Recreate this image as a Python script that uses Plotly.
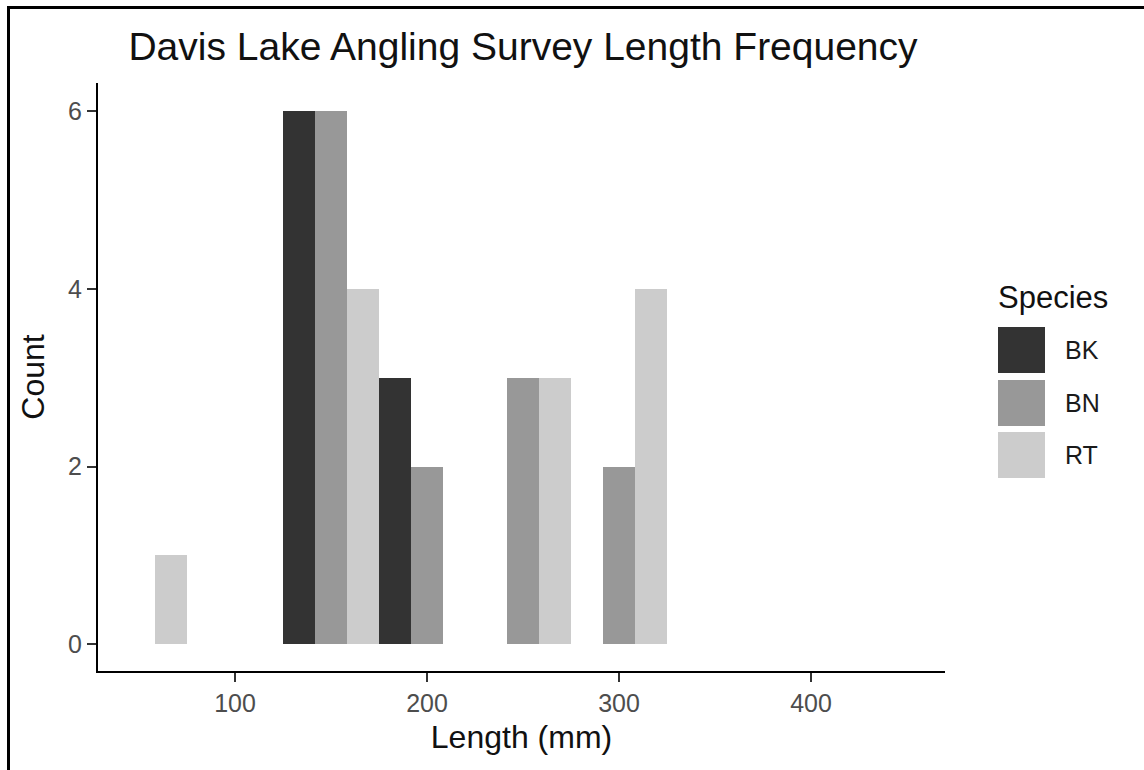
import plotly.graph_objects as go

# Data
bin_centers = [50, 150, 200, 250, 300]
species = ["BK", "BN", "RT"]
bk_counts = [0, 6, 3, 0, 0]
bn_counts = [0, 6, 2, 3, 2]
rt_counts = [1, 4, 0, 3, 4]
colors = ["#333333", "#989898", "#CCCCCC"]
x_ticks = [100, 200, 300, 400]
y_ticks = [0, 2, 4, 6]

FONT = "Liberation Sans, Arial, sans-serif"
W, H = 1144, 770
ML, MR, MT, MB = 98, 199, 83, 99
PW, PH = W - ML - MR, H - MT - MB


def px(xp):
    return (xp - ML) / PW


def py(yp):
    return (H - MB - yp) / PH


fig = go.Figure()
for name, counts, col in zip(species, [bk_counts, bn_counts, rt_counts], colors):
    fig.add_trace(go.Bar(x=bin_centers, y=counts, name=name,
                         marker=dict(color=col, line=dict(width=0)),
                         showlegend=False))

axis_common = dict(showgrid=False, zeroline=False, showline=True,
                   linecolor="#000000", linewidth=2, ticks="outside",
                   ticklen=9, tickwidth=2, tickcolor="#333333",
                   tickfont=dict(family=FONT, size=25, color="#4D4D4D"))

fig.update_layout(
    width=W, height=H,
    margin=dict(l=ML, r=MR, t=MT, b=MB),
    paper_bgcolor="white", plot_bgcolor="white",
    barmode="group", bargap=0, bargroupgap=0,
    font=dict(family=FONT),
    title=dict(text="Davis Lake Angling Survey Length Frequency",
               font=dict(family=FONT, size=39, color="#111111"),
               x=px(523), xref="paper", xanchor="center",
               y=1 - 46 / H, yref="container", yanchor="middle"),
    xaxis=dict(range=[28.6, 469.8], tickvals=x_ticks,
               title=dict(text="Length (mm)", standoff=10,
                          font=dict(family=FONT, size=32, color="#111111")),
               **axis_common),
    yaxis=dict(range=[-0.3, 6.315], tickvals=y_ticks,
               title=dict(text="Count", standoff=14,
                          font=dict(family=FONT, size=32, color="#111111")),
               **axis_common),
)

# Manual legend (ggplot-style large keys)
shapes = []
annotations = []
key_rows = [(327, 373), (380, 426), (432, 478)]
for name, col, (y0, y1) in zip(species, colors, key_rows):
    shapes.append(dict(type="rect", xref="paper", yref="paper",
                       x0=px(998), x1=px(1045), y0=py(y1), y1=py(y0),
                       fillcolor=col, line=dict(width=0)))
    annotations.append(dict(text=name, xref="paper", yref="paper",
                            x=px(1063), y=py((y0 + y1) / 2),
                            xanchor="left", yanchor="middle", showarrow=False,
                            font=dict(family=FONT, size=25, color="#1A1A1A")))
annotations.append(dict(text="Species", xref="paper", yref="paper",
                        x=px(996), y=py(297), xanchor="left", yanchor="middle",
                        showarrow=False,
                        font=dict(family=FONT, size=31, color="#111111")))

# Outer frame (top and left edges of the screenshot)
shapes.append(dict(type="rect", xref="paper", yref="paper",
                   x0=px(8.5), x1=px(1160), y0=py(7.5), y1=py(790),
                   line=dict(color="#000000", width=3), layer="above"))

fig.update_layout(shapes=shapes, annotations=annotations)

fig.write_html("out.html",
               config={"displayModeBar": False},
               post_script="document.body.style.margin='0';"
                           "document.body.style.overflow='hidden';")
